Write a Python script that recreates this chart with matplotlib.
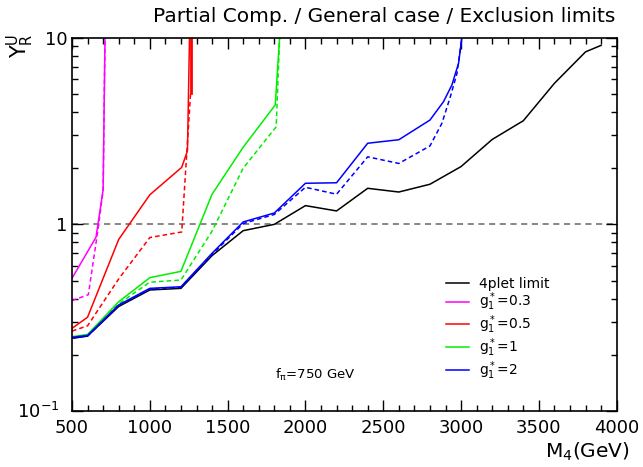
import matplotlib
matplotlib.use("Agg")
import matplotlib.pyplot as plt
from matplotlib.ticker import MultipleLocator, LogLocator, NullFormatter, FixedLocator, FixedFormatter

plt.rcParams['font.family'] = ['DejaVu Sans']
plt.rcParams['mathtext.fontset'] = 'dejavusans'

# ---- data ----
m_4plet = [500, 600, 800, 1000, 1200, 1400, 1600, 1800, 2000, 2200, 2400, 2600,
           2800, 3000, 3200, 3400, 3600, 3800, 3900]
y_4plet = [0.245, 0.252, 0.363, 0.445, 0.454, 0.68, 0.925, 1.0, 1.26, 1.18, 1.56,
           1.49, 1.64, 2.04, 2.85, 3.59, 5.7, 8.4, 9.1]

m_g03 = [500, 654, 700, 712]
y_g03 = [0.514, 0.852, 1.53, 10.0]
m_g03d = [500, 605, 668, 700, 712]
y_g03d = [0.39, 0.42, 0.95, 1.53, 10.0]

m_g05 = [500, 600, 800, 1000, 1205, 1242, 1255]
y_g05 = [0.277, 0.318, 0.83, 1.44, 2.02, 2.48, 10.0]
m_g05d = [500, 600, 800, 1000, 1205, 1262]
y_g05d = [0.268, 0.286, 0.51, 0.85, 0.91, 5.04]
m_g05top = [1262, 1262]
y_g05top = [5.04, 10.0]

m_g1 = [500, 600, 800, 1000, 1200, 1400, 1600, 1806, 1834]
y_g1 = [0.25, 0.257, 0.385, 0.518, 0.56, 1.45, 2.59, 4.36, 10.0]
m_g1d = [500, 600, 800, 1000, 1200, 1400, 1600, 1812, 1834]
y_g1d = [0.249, 0.255, 0.375, 0.49, 0.503, 0.92, 2.0, 3.33, 10.0]

m_g2 = [500, 600, 800, 1000, 1200, 1400, 1600, 1800, 2000, 2200, 2400, 2600,
        2800, 2887, 2941, 2984, 3005]
y_g2 = [0.248, 0.254, 0.37, 0.454, 0.463, 0.70, 1.03, 1.15, 1.66, 1.67, 2.72,
        2.84, 3.62, 4.54, 5.58, 7.3, 10.0]
m_g2d = [500, 600, 800, 1000, 1200, 1400, 1600, 1800, 2000, 2200, 2400, 2600,
         2800, 2877, 2931, 2974, 3005]
y_g2d = [0.246, 0.252, 0.367, 0.45, 0.46, 0.69, 1.01, 1.13, 1.58, 1.45, 2.30,
         2.12, 2.63, 3.48, 4.83, 6.45, 10.0]

legend_labels = ['4plet limit', r'$\mathsf{g^*_1}$=0.3', r'$\mathsf{g^*_1}$=0.5',
                 r'$\mathsf{g^*_1}$=1', r'$\mathsf{g^*_1}$=2']

# ---- figure ----
fig = plt.figure(figsize=(6.43, 4.67), dpi=100)
ax = fig.add_axes([72/643, 1-411/467, (616.7-72)/643, (411-37.7)/467])

lw = 1.1
dash = (0, (3, 2))
ax.axhline(1.0, color='#666666', lw=1.1, ls=(0, (4, 3)), zorder=1)

h0, = ax.plot(m_4plet, y_4plet, color='black', lw=lw, label=legend_labels[0])
h1, = ax.plot(m_g03, y_g03, color='#ff00ff', lw=lw, label=legend_labels[1])
ax.plot(m_g03d, y_g03d, color='#ff00ff', lw=lw, ls=dash)
h2, = ax.plot(m_g05, y_g05, color='#ff0000', lw=lw, label=legend_labels[2])
ax.plot(m_g05d, y_g05d, color='#ff0000', lw=lw, ls=dash)
ax.plot(m_g05top, y_g05top, color='#ff0000', lw=2.0)
h3, = ax.plot(m_g1, y_g1, color='#00ee00', lw=lw, label=legend_labels[3])
ax.plot(m_g1d, y_g1d, color='#00ee00', lw=lw, ls=dash)
h4, = ax.plot(m_g2, y_g2, color='#0000ff', lw=lw, label=legend_labels[4])
ax.plot(m_g2d, y_g2d, color='#0000ff', lw=lw, ls=dash)

ax.set_xlim(500, 4000)
ax.set_yscale('log')
ax.set_ylim(0.1, 10)

ax.xaxis.set_major_locator(MultipleLocator(500))
ax.xaxis.set_minor_locator(MultipleLocator(100))
ax.yaxis.set_major_locator(FixedLocator([0.1, 1, 10]))
ax.yaxis.set_major_formatter(FixedFormatter(['', '1', '10']))
ax.yaxis.set_minor_locator(LogLocator(base=10, subs=range(2, 10)))
ax.yaxis.set_minor_formatter(NullFormatter())

ax.tick_params(which='both', direction='in', top=True, right=True, width=1.0,
               labelsize=13)
ax.tick_params(which='major', length=8)
ax.tick_params(which='minor', length=4)
ax.tick_params(axis='x', pad=6)
for s in ax.spines.values():
    s.set_linewidth(1.2)

fig.text(60/643, 1-412/467, r'$\mathsf{10^{-1}}$', fontsize=13, ha='right', va='center')

fig.text(384/643, 1-16/467, 'Partial Comp. / General case / Exclusion limits',
         fontsize=14.5, ha='center', va='center')
fig.text(20/643, 1-46/467, r'$\mathsf{Y_R^U}$', fontsize=15, rotation=90,
         ha='center', va='center')
fig.text(630/643, 1-452/467, r'$\mathsf{M_4}$(GeV)', fontsize=14.5, ha='right',
         va='center')
ax.text(1805, 0.156, r'$\mathsf{f_\pi}$=750 GeV', fontsize=9.5, va='center')

ax.legend(handles=[h0, h1, h2, h3, h4], loc='upper left',
          bbox_to_anchor=((440 - 72) / 544.7, 1 - (271 - 37.7) / 373.3),
          frameon=False, fontsize=10, handlelength=1.7, handletextpad=0.7,
          labelspacing=0.02, borderaxespad=0)

fig.savefig('out.png', dpi=100)
